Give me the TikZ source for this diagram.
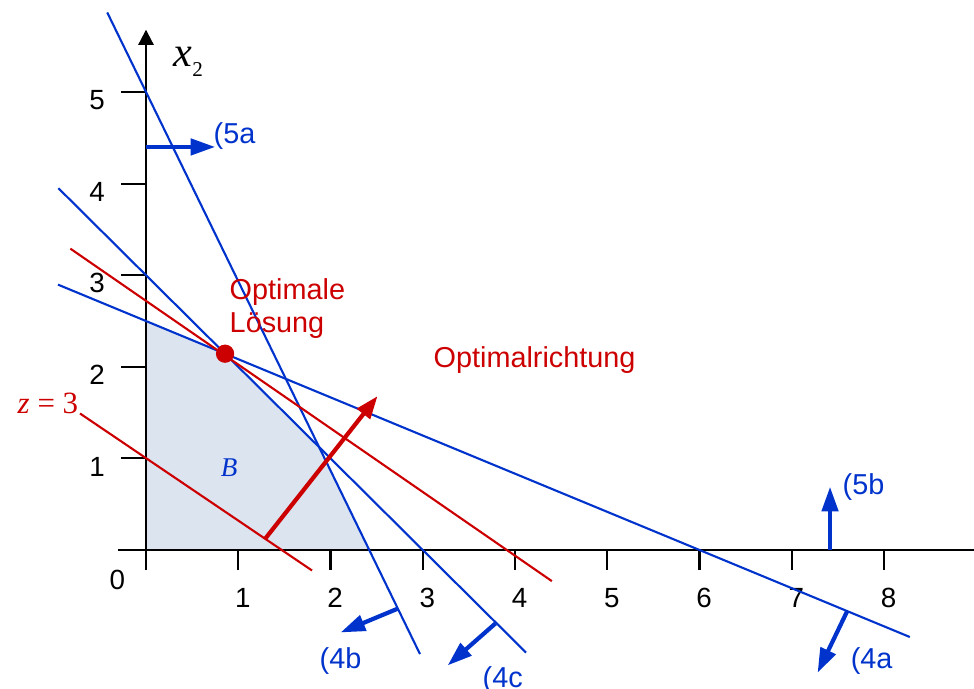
\documentclass[tikz,border=0pt]{standalone}
\usepackage{fontspec}
\setmainfont{Liberation Sans}
\newfontfamily\timesfont{Liberation Serif}
\usetikzlibrary{arrows.meta}
\definecolor{lpblue}{RGB}{0,51,204}
\definecolor{lpred}{RGB}{204,0,0}
\definecolor{lpfill}{RGB}{220,228,240}
\tikzset{
  restr/.style={lpblue, line width=0.6pt},
  zline/.style={lpred, line width=0.6pt},
  axis/.style={black, line width=0.6pt},
  dirarrow/.style={lpblue, line width=1.2pt, -{Triangle[length=7pt,width=4.6pt]}},
  lbl/.style={inner sep=0pt, anchor=base west, font=\fontsize{8.2}{9.4}\selectfont},
  ticklbl/.style={inner sep=0pt, font=\fontsize{7.9}{9}\selectfont}
}
\newcommand{\restrarrow}[3]{
\coordinate (#1s) at (#2);
\coordinate (#1e) at (#3);
\draw [dirarrow] (#1s) -- (#1e);
}

\begin{document}
\begin{tikzpicture}[x=0.9225cm, y=0.916cm]
\useasboundingbox (-1.5827,-1.5175) rectangle (8.9756,6.0044);
% zulaessiger Bereich
\fill [lpfill] (0,0) -- (0,2.5) -- (0.857,2.143) -- (1.88,1.12) -- (2.42,0) -- cycle;
% Achsen
\draw [axis] (-0.3,0) -- (9.1,0);
\draw [axis, -{Triangle[length=4.3pt,width=4.3pt]}] (0,-0.22) -- (0,5.68);
\foreach \k in {1,...,8}
	{\draw [axis] (\k,0) -- (\k,-0.22);
	 \node [ticklbl] (xl\k) at (\k+0.05,-0.52) {\k};}
\foreach \k in {1,...,5}
	{\draw [axis] (0,\k) -- (-0.27,\k);
	 \node [ticklbl] (yl\k) at (-0.53,\k-0.09) {\k};}
\node [ticklbl] (orig) at (-0.31,-0.33) {0};
\node [inner sep=0pt, anchor=base west] (xzwei) at (0.293,5.273)
	{\timesfont\fontsize{12}{14}\selectfont\itshape x\raisebox{-2.8pt}{\upshape\fontsize{6}{7}\selectfont 2}};

% Restriktionen
\draw [restr] (-0.954,2.897) -- (8.28,-0.95);
\draw [restr] (-0.42,5.868) -- (2.97,-1.136);
\draw [restr] (-0.95,3.95) -- (4.12,-1.12);

% Zielfunktion
\draw [zline] (-0.715,1.49) -- (1.80,-0.224);
\draw [zline] (-0.82,3.29) -- (4.40,-0.34);
\node [circle, fill=lpred, inner sep=0pt, minimum size=5.2pt] (opt) at (0.857,2.143) {};
\coordinate (rs) at (1.29,0.12);
\coordinate (re) at (2.51,1.68);
\draw [lpred, line width=1.2pt, -{Triangle[length=6.5pt,width=4.6pt]}] (rs) -- (re);

\restrarrow{fa}{0,4.40}{0.75,4.40}
\restrarrow{fb}{7.415,0}{7.415,0.69}
\restrarrow{va}{7.60,-0.67}{7.28,-1.34}
\restrarrow{vb}{2.73,-0.64}{2.11,-0.90}
\restrarrow{vc}{3.79,-0.80}{3.27,-1.26}

\node [lbl, text=lpblue] (lfa) at (0.726,4.443) {(5a};
\node [lbl, text=lpblue] (lfb) at (7.545,0.611) {(5b};
\node [lbl, text=lpblue] (lva) at (7.632,-1.299) {(4a};
\node [lbl, text=lpblue] (lvb) at (1.875,-1.299) {(4b};
\node [lbl, text=lpblue] (lvc) at (3.642,-1.50) {(4c};

\node [lbl, text=lpred] (lrich) at (3.111,1.987) {Optimalrichtung};
\node [lbl, anchor=north west, align=left, text=lpred] (llsg) at (0.90,2.97) {Optimale\\Lösung};
\node [inner sep=0pt, anchor=base west, text=lpred] (lz) at (-1.398,1.485)
	{\timesfont\fontsize{8.8}{10}\selectfont\textit{z} = 3};
\node [inner sep=0pt, text=lpblue] (lB) at (0.90,0.895)
	{\timesfont\fontsize{7.7}{9}\selectfont\itshape B};
\end{tikzpicture}
\end{document}
